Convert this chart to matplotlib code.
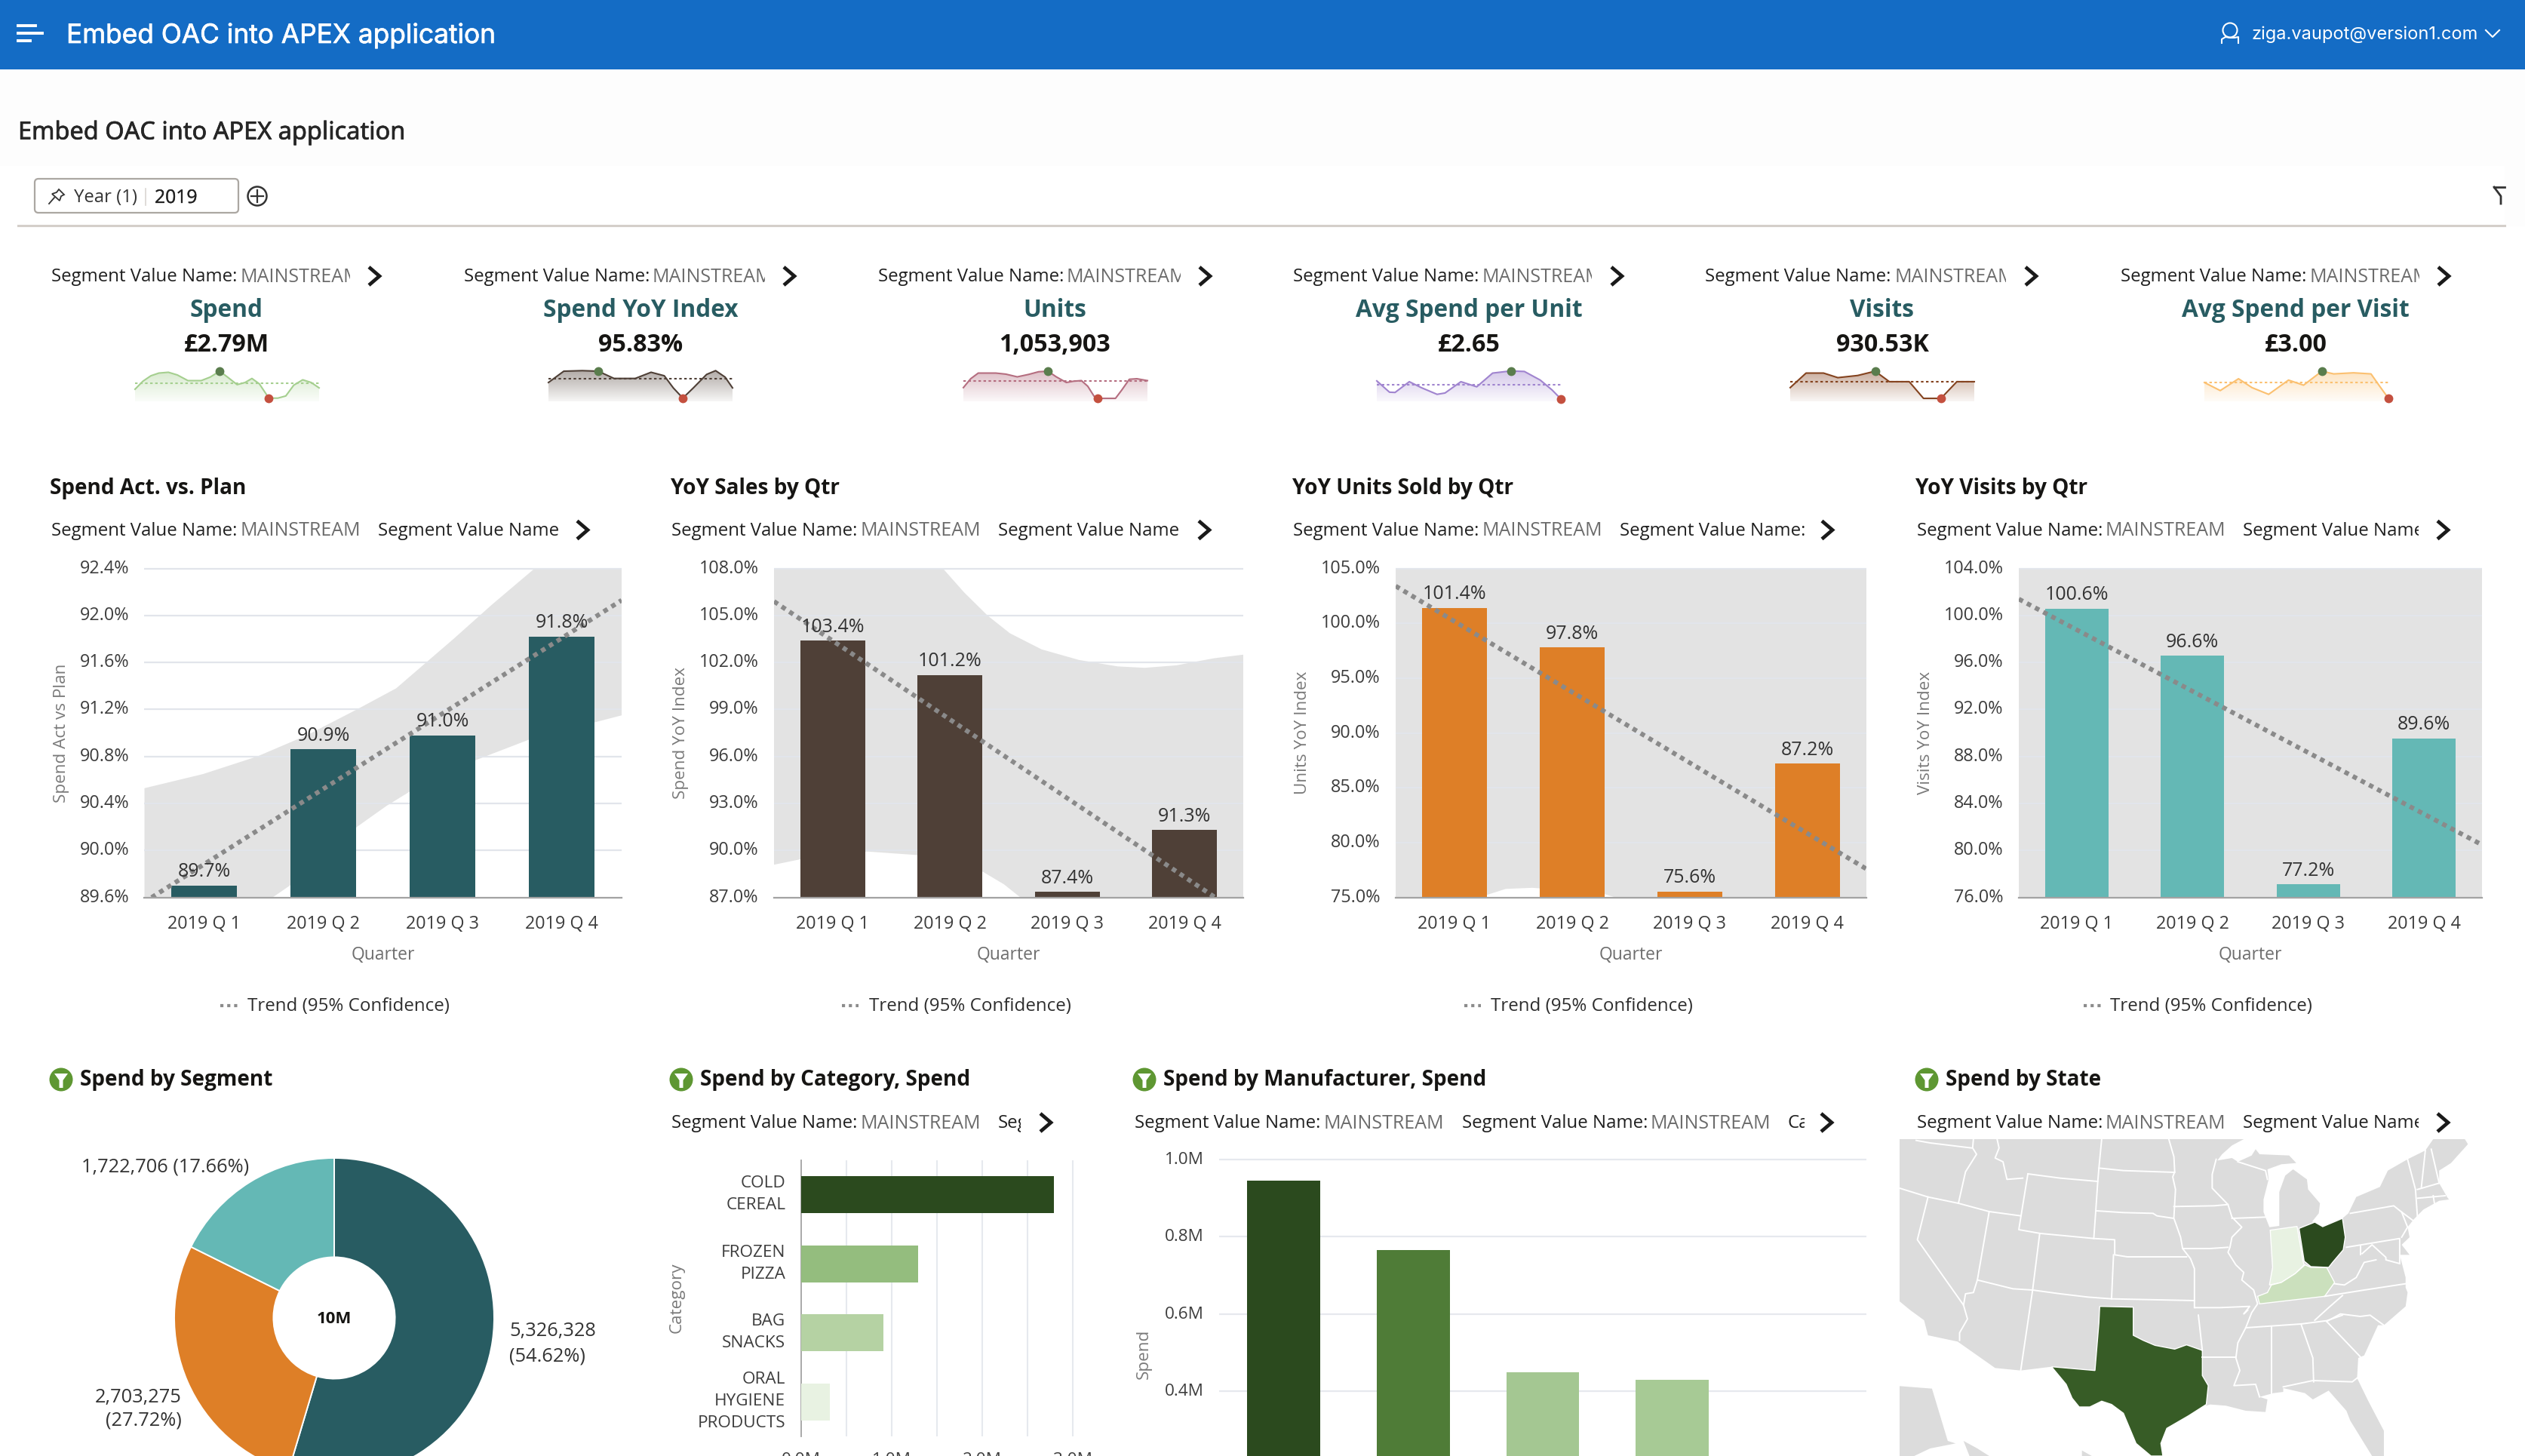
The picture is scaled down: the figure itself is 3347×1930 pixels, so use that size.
import matplotlib
matplotlib.use('Agg')
import matplotlib.pyplot as plt
import matplotlib.patheffects as pe
import matplotlib.transforms as mtrans
import numpy as np
from matplotlib.patches import Circle, FancyBboxPatch, Polygon, Rectangle

plt.rcParams['font.family'] = ['Open Sans', 'DejaVu Sans']

W, H = 3348, 1930

# KPI tiles
kpi_names = ['Spend', 'Spend YoY Index', 'Units', 'Avg Spend per Unit', 'Visits', 'Avg Spend per Visit']
kpi_values = ['£2.79M', '95.83%', '1,053,903', '£2.65', '930.53K', '£3.00']
kpi_colors = ['#A5CF8F', '#4F4037', '#B56E80', '#A084CF', '#84431F', '#FBC070']

spark1_x = [0, 15, 30, 45, 63, 80, 100, 125, 142, 160, 175, 193, 208, 221, 235, 253, 270, 285, 300, 317, 333, 348]
spark1_y = [45, 75, 95, 105, 108, 98, 77, 77, 90, 112, 90, 62, 70, 85, 65, 12, 12, 20, 60, 80, 70, 50]
spark2_x = [0, 29, 64, 94, 124, 164, 194, 219, 236, 254, 274, 299, 316, 334, 348]
spark2_y = [70, 112, 114, 112, 85, 85, 108, 95, 50, 12, 50, 100, 114, 90, 50]
spark3_x = [0, 29, 59, 129, 169, 214, 259, 299, 336, 369, 409, 439, 469, 494, 519, 534, 604, 629, 659, 689, 731]
spark3_y = [51, 84, 105, 105, 101, 91, 100, 110, 112, 91, 70, 75, 77, 56, 19, 11, 11, 42, 82, 84, 77]
spark4_x = [0, 16, 23, 41, 56, 76, 86, 106, 126, 146, 169, 186, 206, 221, 232]
spark4_y = [76, 34, 33, 73, 51, 26, 31, 73, 54, 105, 113, 111, 79, 42, 9]
spark5_x = [0, 20, 42, 60, 85, 107, 125, 150, 168, 190, 210, 232]
spark5_y = [51, 105, 105, 88, 96, 112, 73, 73, 11, 11, 73, 73]
spark6_x = [0, 20, 43, 60, 81, 106, 125, 148, 163, 188, 210, 220, 232]
spark6_y = [70, 40, 84, 51, 26, 79, 60, 112, 102, 106, 102, 60, 11]
spark_means = [68, 85, 76, 63, 73, 70]
spark_hi = [9, 3, 8, 10, 5, 7]
spark_lo = [15, 9, 15, 14, 9, 12]

# quarterly charts
quarters = ['2019 Q 1', '2019 Q 2', '2019 Q 3', '2019 Q 4']

plan_values = [89.7, 90.86, 90.98, 91.82]
plan_labels = ['89.7%', '90.9%', '91.0%', '91.8%']
plan_ticks = [89.6, 90.0, 90.4, 90.8, 91.2, 91.6, 92.0, 92.4]
plan_trend_x = [-0.44, 3.5]
plan_trend_y = [89.6, 92.13]
plan_up_x = [-0.5, -0.01, 0.445, 0.86, 1.28, 1.61, 2.09, 2.41, 2.77, 3.06, 3.5]
plan_up_y = [90.53, 90.65, 90.80, 90.98, 91.20, 91.38, 91.80, 92.09, 92.4, 92.68, 93.0]
plan_lo_x = [-0.5, 0.574, 1.06, 1.28, 1.53, 1.77, 2.28, 2.74, 3.5]
plan_lo_y = [89.6, 89.6, 89.94, 90.2, 90.38, 90.53, 90.77, 90.95, 91.15]

sales_values = [103.39, 101.2, 87.36, 91.3]
sales_labels = ['103.4%', '101.2%', '87.4%', '91.3%']
sales_ticks = [87, 90, 93, 96, 99, 102, 105, 108]
sales_trend_x = [-0.5, 3.26]
sales_trend_y = [105.9, 87.0]
sales_up_x = [-0.5, 0.94, 1.12, 1.32, 1.51, 1.78, 2.1, 2.43, 2.66, 2.93, 3.25, 3.5]
sales_up_y = [109.0, 108.0, 106.48, 105.0, 103.87, 102.84, 102.16, 101.75, 101.66, 101.82, 102.27, 102.5]
sales_lo_x = [-0.5, -0.28, -0.03, 0.3, 0.73, 1.28, 1.46, 1.6, 3.5]
sales_lo_y = [89.09, 89.43, 89.77, 89.93, 89.7, 88.64, 87.84, 87.0, 87.0]

units_values = [101.4, 97.8, 75.55, 87.2]
units_labels = ['101.4%', '97.8%', '75.6%', '87.2%']
units_ticks = [75, 80, 85, 90, 95, 100, 105]
units_trend_x = [-0.5, 3.5]
units_trend_y = [103.4, 77.6]
units_up_x = [-0.5, 3.5]
units_up_y = [106, 106]
units_lo_x = [-0.5, 0.174, 0.275, 0.435, 0.664, 1.27, 1.367, 3.5]
units_lo_y = [75, 75, 75.23, 75.78, 75.88, 75.32, 75, 75]

visits_values = [100.57, 96.58, 77.12, 89.55]
visits_labels = ['100.6%', '96.6%', '77.2%', '89.6%']
visits_ticks = [76, 80, 84, 88, 92, 96, 100, 104]
visits_trend_x = [-0.5, 3.477]
visits_trend_y = [101.4, 80.6]
visits_up_x = [-0.5, 3.5]
visits_up_y = [105, 105]
visits_lo_x = [-0.5, 3.5]
visits_lo_y = [76, 76]

# bottom row
segment_values = [5326328, 2703275, 1722706]
segment_colors = ['#285C62', '#DE7F27', '#64B8B5']

categories = ['COLD\nCEREAL', 'FROZEN\nPIZZA', 'BAG\nSNACKS', 'ORAL\nHYGIENE\nPRODUCTS']
category_spend = [2.79, 1.29, 0.91, 0.32]
category_colors = ['#2B4A1E', '#94BD7E', '#B5D2A3', '#E8F2E2']
category_ticks = [0, 1, 2, 3]
category_ticklabels = ['0.0M', '1.0M', '2.0M', '3.0M']

manufacturer_spend = [0.946, 0.765, 0.45, 0.43]
manufacturer_colors = ['#2B4A1E', '#4F7C37', '#A4C792', '#A7CA95']
manufacturer_ticks = [0.0, 0.2, 0.4, 0.6, 0.8, 1.0]
manufacturer_ticklabels = ['0.0M', '0.2M', '0.4M', '0.6M', '0.8M', '1.0M']

# map outlines, traced in screen units of the map panel
land_outline = [
    (73, 90), (945, 90), (915, 115), (890, 150), (878, 175), (915, 165), (930, 180), (965, 155), (975, 130),
    (985, 150), (1060, 155), (1078, 185), (1040, 190), (1005, 210), (1008, 250), (995, 330), (995, 380),
    (1010, 440), (1035, 435), (1035, 300), (1050, 235), (1070, 210), (1105, 250), (1108, 290), (1138, 345),
    (1135, 385), (1118, 418), (1125, 420), (1145, 438), (1195, 405), (1210, 385), (1230, 320), (1290, 280),
    (1310, 215), (1360, 170), (1405, 135), (1425, 90), (1505, 90), (1513, 110), (1490, 150), (1470, 185),
    (1440, 215), (1440, 265), (1460, 320), (1465, 330), (1440, 335), (1400, 370), (1375, 410), (1360, 440),
    (1365, 480), (1345, 510), (1365, 550), (1340, 550), (1355, 640), (1355, 680), (1360, 700), (1355, 755),
    (1300, 830), (1285, 830), (1250, 950), (1235, 960), (1232, 1040), (1260, 1130), (1300, 1250), (1300, 1350),
    (1270, 1350), (1215, 1210), (1205, 1170), (1160, 1090), (1120, 1125), (1100, 1100), (1045, 1080),
    (1045, 1095), (1020, 1100), (985, 1115), (1005, 1125), (1000, 1175), (950, 1170), (900, 1150), (860, 1145),
    (850, 1150), (458, 995), (380, 1010), (315, 1000), (220, 895), (145, 870), (135, 810), (100, 770), (73, 735),
]
land_extra = [
    [(73, 1072), (155, 1082), (195, 1290), (215, 1300), (150, 1320), (110, 1350), (73, 1350)],
    [(235, 1290), (270, 1320), (300, 1350), (250, 1350)],
    [(535, 1328), (560, 1350), (535, 1350)],
]
state_borders = [
    [(115, 95), (150, 105), (255, 125)],
    [(260, 90), (258, 125), (268, 150), (240, 220), (222, 345)],
    [(73, 285), (145, 320), (222, 345), (300, 378), (380, 395)],
    [(320, 90), (325, 125), (315, 165), (335, 180), (345, 250), (385, 245)],
    [(398, 228), (375, 450), (430, 465), (565, 485), (618, 490), (618, 550), (650, 558), (800, 558)],
    [(398, 228), (480, 245), (575, 258)],
    [(585, 90), (578, 205), (575, 260), (570, 375), (565, 485)],
    [(578, 205), (640, 215), (770, 222)],
    [(755, 90), (768, 160), (770, 220), (765, 240), (772, 290), (768, 400)],
    [(572, 375), (640, 382), (715, 385), (725, 395), (768, 405), (785, 480), (790, 525), (810, 565), (820, 605), (820, 760)],
    [(768, 358), (870, 355), (905, 350)],
    [(790, 525), (860, 525), (905, 520)],
    [(875, 170), (865, 230), (865, 285), (905, 350), (915, 400), (940, 440), (915, 480), (910, 520), (905, 540),
     (925, 590), (945, 620), (940, 650), (970, 690), (980, 745), (965, 780), (950, 840), (930, 900), (925, 960),
     (935, 1010), (920, 1070), (975, 1065), (985, 1115)],
    [(915, 405), (1000, 400)],
    [(930, 180), (1000, 215), (1005, 250)],
    [(615, 550), (610, 725)],
    [(428, 465), (410, 690), (380, 1008)],
    [(300, 378), (270, 650), (260, 700), (240, 705), (235, 750)],
    [(145, 320), (118, 490), (235, 750), (245, 805), (225, 860), (225, 890)],
    [(270, 650), (360, 685), (410, 690), (480, 705), (550, 718), (610, 725), (820, 732)],
    [(822, 760), (885, 760), (960, 755), (945, 785), (955, 770)],
    [(830, 790), (840, 930)],
    [(840, 958), (925, 958)],
    [(950, 840), (1090, 825), (1155, 812), (1195, 790)],
    [(1150, 715), (1250, 690), (1355, 665)],
    [(1125, 810), (1160, 760), (1195, 712)],
    [(1015, 835), (1015, 1100)],
    [(1090, 825), (1120, 960), (1122, 1055)],
    [(1155, 815), (1240, 955)],
    [(1155, 815), (1190, 785), (1240, 795), (1265, 790), (1300, 830)],
    [(1045, 1075), (1120, 1050), (1220, 1055), (1232, 1040)],
    [(1175, 665), (1200, 670), (1230, 640), (1250, 580), (1280, 570)],
    [(1205, 520), (1340, 485), (1340, 580)],
    [(1240, 515), (1240, 550)],
    [(1245, 545), (1270, 510), (1305, 560), (1305, 570), (1340, 585)],
    [(1215, 385), (1325, 355), (1345, 380), (1375, 415)],
    [(1345, 380), (1360, 440), (1345, 480)],
    [(1360, 170), (1380, 290), (1385, 400)],
    [(1405, 135), (1395, 280)],
    [(1420, 130), (1440, 265)],
    [(1385, 290), (1440, 265)],
    [(1385, 325), (1455, 315)],
    [(1425, 315), (1430, 365)],
]
texas_outline = [
    (580, 755), (665, 758), (665, 870), (690, 890), (720, 910), (770, 925), (800, 908), (840, 930), (840, 1030),
    (855, 1070), (850, 1145), (805, 1190), (750, 1240), (735, 1300), (740, 1350), (710, 1350), (672, 1300),
    (640, 1180), (610, 1145), (585, 1132), (555, 1155), (528, 1155), (510, 1120), (495, 1065), (458, 995),
    (568, 1010), (578, 820),
]
ohio_outline = [
    (1085, 445), (1125, 420), (1145, 438), (1195, 405), (1202, 480), (1197, 530), (1170, 580), (1160, 600),
    (1115, 597), (1098, 575),
]
indiana_outline = [
    (1012, 452), (1080, 437), (1095, 575), (1098, 590), (1075, 625), (1040, 660), (1010, 670), (1018, 600),
]
kentucky_outline = [
    (1100, 590), (1115, 600), (1155, 600), (1175, 660), (1150, 715), (985, 745), (980, 715), (1005, 700),
    (1015, 670), (1040, 660), (1075, 625),
]

fig = plt.figure(figsize=(W / 100, H / 100), dpi=100, facecolor='white')


def px_axes(left, top, right, bottom):
    return fig.add_axes([left / W, 1 - bottom / H, (right - left) / W, (bottom - top) / H])


def nudge_yticklabels(ax, px):
    # the text sits a little low in its box, move the labels up by px pixels
    off = mtrans.ScaledTranslation(0, px / 100, fig.dpi_scale_trans)
    for t in ax.get_yticklabels():
        t.set_transform(t.get_transform() + off)


# full page layer in pixel coordinates, everything that is not a chart goes here
page = fig.add_axes([0, 0, 1, 1], zorder=10)
page.set_xlim(0, W)
page.set_ylim(H, 0)
page.axis('off')
page.patch.set_alpha(0)


def label(x, y, s, size=16.8, color='#2E2E2E', weight='normal', ha='left', va='center', clip_x=None, family=None, stroke=0):
    t = page.text(x, y, s, fontsize=size, color=color, fontweight=weight, ha=ha, va=va)
    if family:
        t.set_family(family)
    if stroke:
        t.set_path_effects([pe.withStroke(linewidth=stroke, foreground=color)])
    if clip_x is not None:
        t.set_clip_path(Rectangle((x - 5, y - 40), clip_x - x + 5, 80, transform=page.transData))
        t.set_clip_on(True)
    return t


def chevron(x, y):
    page.plot([x - 7, x + 7, x - 7], [y - 12, y, y + 12], color='#1A1A1A', lw=3.4, solid_joinstyle='miter',
              solid_capstyle='butt')


def segment_row(y, parts, chevron_x, clip_x):
    # parts are (x of label, x of value or None, label text, value text or None)
    for x, xv, txt, val in parts:
        label(x, y, txt, size=SEG_SIZE, color='#1F1F1F', clip_x=clip_x)
        if val:
            label(xv, y, val, size=SEG_VALUE_SIZE, color='#6B6B6B', clip_x=clip_x)
    chevron(chevron_x, y - 1)


def filter_badge(x, y):
    page.add_patch(Circle((x, y), 15.5, color='#5E9732', lw=0))
    page.add_patch(Polygon([(x - 9, y - 8), (x + 9, y - 8), (x + 2.5, y + 1), (x + 2.5, y + 11), (x - 2.5, y + 11),
                            (x - 2.5, y + 1)], color='white', lw=0))


SEG_SIZE = 17.3
SEG_VALUE_SIZE = 18
TITLE_SIZE = 20.2

# header
page.add_patch(Rectangle((0, 0), W, 92, color='#146CC5', lw=0))
page.add_patch(Rectangle((0, 92), W, 128, color='#FDFDFD', lw=0))
page.add_patch(Rectangle((3320, 220), 28, 80, color='#FDFDFD', lw=0))
page.plot([24, 47], [34, 34], color='white', lw=2.8)
page.plot([24, 56], [44, 44], color='white', lw=2.8)
page.plot([24, 40], [54, 54], color='white', lw=2.8)
label(88, 47, 'Embed OAC into APEX application', size=25.4, color='white', family='Inter', stroke=0.5)
page.add_patch(Circle((2956, 40), 9.5, fc='none', ec='white', lw=1.5))
page.plot([2945, 2945, 2950, 2956, 2962, 2967, 2967], [57, 52, 49, 50, 50, 49, 57], color='white', lw=1.5)
label(2985, 46, 'ziga.vaupot@version1.com', size=17, color='white', family='Inter')
page.plot([3295, 3304, 3313], [40, 49, 40], color='white', lw=1.5)

label(24, 176, 'Embed OAC into APEX application', size=23.4, color='#262626', family='Noto Sans', stroke=0.5)

# filter bar
page.add_patch(FancyBboxPatch((46, 237), 270, 45, boxstyle='round,pad=0,rounding_size=5', fc='white', ec='#ABA7A2', lw=1.6))
page.add_patch(Polygon([(78, 251), (85, 258), (81, 260), (79, 266), (69, 257), (75, 255)], fc='none', ec='#333333', lw=1.3))
page.plot([72, 65], [262, 270], color='#333333', lw=1.3)
label(98, 262.5, 'Year (1)', size=17.2, color='#333333')
page.plot([193, 193], [250, 272], color='#D9D6D2', lw=1.2)
label(205, 262.5, '2019', size=17.8, color='#222222', stroke=0.2)
page.add_patch(Circle((341, 260), 12.5, fc='none', ec='#333333', lw=1.8))
page.plot([341, 341], [252, 268], color='#333333', lw=1.6)
page.plot([333, 349], [260, 260], color='#333333', lw=1.6)
page.plot([24, 3320], [299, 299], color='#D4CFCA', lw=2.2)
page.plot([3306, 3320], [248, 248], color='#333333', lw=2)
page.plot([3306, 3315, 3315], [248, 260, 270], color='#333333', lw=2)
page.add_patch(Rectangle((3320, 240), 28, 35, color='#FDFDFD', lw=0))

# KPI tiles
kpi_seg_x = [(68, 319, 464), (615, 865, 1014), (1164, 1414, 1565), (1714, 1965, 2110), (2260, 2512, 2659), (2811, 3062, 3207)]
kpi_chev_x = [496, 1046, 1597, 2143, 2692, 3239]
kpi_center_x = [300, 849, 1398, 1947, 2495, 3043]
kpi_spark_x = [(179, 423), (727, 971), (1277, 1521), (1825, 2069), (2373, 2617), (2922, 3166)]
spark_xs = [spark1_x, spark2_x, spark3_x, spark4_x, spark5_x, spark6_x]
spark_ys = [spark1_y, spark2_y, spark3_y, spark4_y, spark5_y, spark6_y]

for i in range(6):
    x0, xv, xc = kpi_seg_x[i]
    segment_row(367, [(x0, xv, 'Segment Value Name:', 'MAINSTREAM')], kpi_chev_x[i], xc)
    label(kpi_center_x[i], 412, kpi_names[i], size=22.8, color='#285C62', weight='bold', ha='center')
    label(kpi_center_x[i], 458, kpi_values[i], size=23.2, color='#161513', weight='bold', ha='center')

    ax = px_axes(kpi_spark_x[i][0], 485.6, kpi_spark_x[i][1], 532)
    sx, sy = np.array(spark_xs[i]), np.array(spark_ys[i])
    ax.set_xlim(0, sx[-1])
    ax.set_ylim(0, 130)
    ax.axis('off')
    rgb = matplotlib.colors.to_rgb(kpi_colors[i])
    grad = np.ones((64, 2, 4))
    grad[..., :3] = rgb
    grad[..., 3] = np.linspace(0.5, 0.05, 64)[:, None]
    im = ax.imshow(grad, extent=(0, sx[-1], 0, 130), aspect='auto', origin='upper', zorder=1)
    im.set_clip_path(Polygon(list(zip(np.r_[sx[0], sx, sx[-1]], np.r_[0, sy, 0])), transform=ax.transData))
    ax.plot(sx, sy, color=kpi_colors[i], lw=1.5, zorder=2, clip_on=False)
    ax.plot([sx[0], sx[-1]], [spark_means[i]] * 2, color=kpi_colors[i], lw=1.5, ls=(0, (1.6, 1.6)), zorder=2)
    ax.plot(sx[spark_hi[i]], sy[spark_hi[i]], 'o', ms=8.5, color='#5A7D4D', mew=0, zorder=3, clip_on=False)
    ax.plot(sx[spark_lo[i]], sy[spark_lo[i]], 'o', ms=8.5, color='#C4503F', mew=0, zorder=3, clip_on=False)

# quarter charts
CHART_TOP, CHART_BOTTOM = 753.6, 1189.6
quarter_charts = [
    ('Spend Act. vs. Plan', 'Spend Act vs Plan', (191.5, 824), 81, plan_values, plan_labels, plan_ticks, '#285C62',
     plan_trend_x, plan_trend_y, plan_up_x, plan_up_y, plan_lo_x, plan_lo_y),
    ('YoY Sales by Qtr', 'Spend YoY Index', (1026, 1648), 903, sales_values, sales_labels, sales_ticks, '#4F4037',
     sales_trend_x, sales_trend_y, sales_up_x, sales_up_y, sales_lo_x, sales_lo_y),
    ('YoY Units Sold by Qtr', 'Units YoY Index', (1850, 2474), 1727, units_values, units_labels, units_ticks, '#DE7F27',
     units_trend_x, units_trend_y, units_up_x, units_up_y, units_lo_x, units_lo_y),
    ('YoY Visits by Qtr', 'Visits YoY Index', (2676, 3290), 2553, visits_values, visits_labels, visits_ticks, '#64B8B5',
     visits_trend_x, visits_trend_y, visits_up_x, visits_up_y, visits_lo_x, visits_lo_y),
]
title_x = [66.5, 889, 1713, 2539]
seg_row_x = [(68, 319, 501, 772, 745, 'Segment Value Name'), (890, 1141, 1323, 1596, 1567, 'Segment Value Name'),
             (1714, 1965, 2147, 2422, 2392, 'Segment Value Name:'), (2541, 2791, 2973, 3238, 3206, 'Segment Value Name')]
legend_x = [(292.5, 313, 328), (1116, 1136, 1152), (1941, 1961, 1976), (2762, 2783, 2797)]

for i, chart in enumerate(quarter_charts):
    title, ylab, (left, right), ylab_x, vals, labs, ticks, color, tx, ty, ux, uy, lx, ly = chart
    label(title_x[i], 647, title, size=TITLE_SIZE, color='#161513', weight='bold')
    x0, xv, x2, cx, xc, second = seg_row_x[i]
    segment_row(703.5, [(x0, xv, 'Segment Value Name:', 'MAINSTREAM'), (x2, None, second, None)], cx, xc)

    ax = px_axes(left, CHART_TOP, right, CHART_BOTTOM)
    ax.set_xlim(-0.5, 3.5)
    ax.set_ylim(ticks[0], ticks[-1])
    ax.fill(list(ux) + list(lx[::-1]), list(uy) + list(ly[::-1]), color='#E3E3E3', lw=0, zorder=1)
    ax.hlines(ticks[1:], -0.5, 3.5, color='#E2E5EB', lw=1.6, zorder=2, clip_on=False)
    ax.bar(range(4), np.array(vals) - ticks[0], bottom=ticks[0], width=0.55, color=color, zorder=3)
    ax.plot(tx, ty, color='#8A8A8A', lw=4.4, ls=(0, (1, 1)), dash_capstyle='butt', zorder=4)
    for j, v in enumerate(vals):
        ax.annotate(labs[j], (j, v), xytext=(0, 13), textcoords='offset points', ha='center', va='center',
                    fontsize=18, color='#333333', zorder=5)
    for s in ['top', 'left', 'right']:
        ax.spines[s].set_visible(False)
    ax.spines['bottom'].set_color('#A3A3A3')
    ax.spines['bottom'].set_linewidth(1.6)
    ax.spines['bottom'].set_zorder(6)
    ax.set_xticks(range(4), quarters)
    ax.set_yticks(ticks, ['%.1f%%' % t for t in ticks])
    ax.tick_params(axis='both', length=0, labelsize=16.8, labelcolor='#3D3D3D')
    ax.tick_params(axis='y', pad=14.5)
    ax.tick_params(axis='x', pad=17)
    nudge_yticklabels(ax, 3)
    ax.set_xlabel('Quarter', fontsize=16.5, color='#6E6E6E', va='center')
    ax.xaxis.set_label_coords(0.5, -(1266 - CHART_BOTTOM) / (CHART_BOTTOM - CHART_TOP))
    ax.set_ylabel(ylab, fontsize=16.2, color='#7A7A7A', va='center', ha='center')
    ax.yaxis.set_label_coords((ylab_x - left) / (right - left), 0.5)

    d0, d1, tx0 = legend_x[i]
    page.plot([d0, d1 + 2], [1333, 1333], color='#8C8C8C', lw=3, ls=(0, (1, 1.2)), dash_capstyle='butt')
    label(tx0, 1333.5, 'Trend (95% Confidence)', size=17.4, color='#2E2E2E')

# spend by segment
filter_badge(81, 1431)
label(106, 1431, 'Spend by Segment', size=TITLE_SIZE, color='#161513', weight='bold')
ax = px_axes(231, 1535, 655, 1959)
ax.pie(segment_values, colors=segment_colors, startangle=90, counterclock=False, radius=1,
       wedgeprops=dict(width=0.62, edgecolor='white', linewidth=1.4))
ax.set_xlim(-1, 1)
ax.set_ylim(-1, 1)
label(443, 1749, '10M', size=16, color='#161513', weight='bold', ha='center')
label(108, 1547, '1,722,706 (17.66%)', size=18.3, color='#333333')
label(675, 1765, '5,326,328', size=18.3, color='#333333')
label(675, 1798, '(54.62%)', size=18.3, color='#333333')
label(241, 1853, '2,703,275', size=18.3, color='#333333', ha='right')
label(241, 1883, '(27.72%)', size=18.3, color='#333333', ha='right')

# spend by category
filter_badge(903, 1431)
label(928, 1431, 'Spend by Category, Spend', size=TITLE_SIZE, color='#161513', weight='bold')
segment_row(1489, [(890, 1141, 'Segment Value Name:', 'MAINSTREAM'), (1323, None, 'Segm', None)], 1386, 1353)
ax = px_axes(1062, 1538, 1422, 1904)
ax.set_xlim(0, 3)
ax.set_ylim(3.5, -0.5)
ax.barh(range(4), category_spend, height=0.54, color=category_colors, zorder=3)
ax.vlines(np.arange(0.5, 3.5, 0.5), -0.5, 3.5, color='#E6E9EE', lw=1.5, zorder=1, clip_on=False)
for s in ['top', 'bottom', 'right']:
    ax.spines[s].set_visible(False)
ax.spines['left'].set_color('#A3A3A3')
ax.spines['left'].set_linewidth(1.3)
ax.set_yticks(range(4), categories, linespacing=1.5)
ax.set_xticks(category_ticks, category_ticklabels)
ax.tick_params(axis='both', length=0, labelsize=16.2, labelcolor='#3D3D3D')
ax.tick_params(axis='y', pad=15)
ax.tick_params(axis='x', pad=15)
nudge_yticklabels(ax, 7)
ax.set_ylabel('Category', fontsize=16.2, color='#7A7A7A', va='center', ha='center')
ax.yaxis.set_label_coords((897 - 1062) / 360, (1904 - 1720) / 366)

# spend by manufacturer
filter_badge(1517, 1431)
label(1542, 1431, 'Spend by Manufacturer, Spend', size=TITLE_SIZE, color='#161513', weight='bold')
segment_row(1489, [(1504, 1755, 'Segment Value Name:', 'MAINSTREAM'), (1938, 2188, 'Segment Value Name:', 'MAINSTREAM'),
                   (2370, None, 'Category', None)], 2421, 2392)
ax = px_axes(1616, 1537, 2474, 2049)
ax.set_xlim(-0.5, 4.5)
ax.set_ylim(0, 1.0)
ax.hlines(manufacturer_ticks[1:], -0.5, 4.5, color='#E6E9EE', lw=1.6, zorder=1, clip_on=False)
ax.bar(range(4), manufacturer_spend, width=0.565, color=manufacturer_colors, zorder=3)
for s in ax.spines.values():
    s.set_visible(False)
ax.set_xticks([])
ax.set_yticks(manufacturer_ticks, manufacturer_ticklabels)
ax.tick_params(axis='y', length=0, labelsize=16.2, labelcolor='#3D3D3D', pad=14.5)
nudge_yticklabels(ax, 2)
ax.set_ylabel('Spend', fontsize=16.2, color='#7A7A7A', va='center', ha='center')
ax.yaxis.set_label_coords((1516 - 1616) / 858, (2049 - 1795) / 512)

# spend by state
filter_badge(2554, 1431)
label(2579, 1431, 'Spend by State', size=TITLE_SIZE, color='#161513', weight='bold')
segment_row(1489, [(2541, 2791, 'Segment Value Name:', 'MAINSTREAM'), (2973, None, 'Segment Value Name', None)], 3238, 3206)
ax = px_axes(2518, 1510, 3271.4, 1930)
ax.set_xlim(73, 1513)
ax.set_ylim(1350, 90)
ax.axis('off')
ax.add_patch(Polygon(land_outline, fc='#DCDCDC', ec='none'))
for part in land_extra:
    ax.add_patch(Polygon(part, fc='#DCDCDC', ec='none'))
for border in state_borders:
    bx, by = zip(*border)
    ax.plot(bx, by, color='white', lw=1.4, solid_joinstyle='round')
ax.add_patch(Polygon(texas_outline, fc='#375C26', ec='white', lw=1.0))
ax.add_patch(Polygon(indiana_outline, fc='#E8F2E2', ec='white', lw=1.0))
ax.add_patch(Polygon(kentucky_outline, fc='#CBE0BD', ec='white', lw=1.0))
ax.add_patch(Polygon(ohio_outline, fc='#2B4A1E', ec='white', lw=1.0))

fig.savefig('out.png', dpi=100)
